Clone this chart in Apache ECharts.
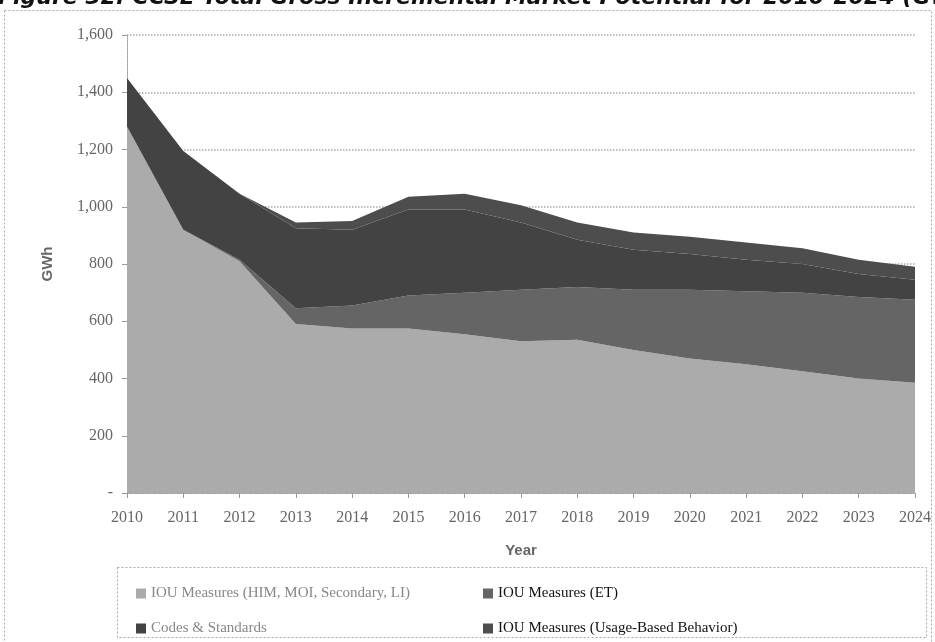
<!DOCTYPE html>
<html>
<head>
<meta charset="utf-8">
<script src="https://cdn.jsdelivr.net/npm/echarts@6/dist/echarts.min.js"></script>
<style>
  html, body { margin: 0; padding: 0; background: #fff; }
  #chart { width: 935px; height: 642px; }
</style>
</head>
<body>
<div id="chart"></div>
<script>
// Years on the category axis
const years = ['2010','2011','2012','2013','2014','2015','2016','2017','2018','2019','2020','2021','2022','2023','2024'];

// Gross incremental potential by component (GWh), stacked bottom to top
const iouHimMoi = [1280, 920, 810, 590, 575, 575, 555, 530, 535, 500, 470, 450, 425, 400, 385];
const iouEt = [0, 0, 5, 55, 80, 115, 145, 180, 185, 210, 240, 255, 275, 285, 290];
const codesStandards = [170, 275, 230, 280, 265, 300, 290, 235, 165, 140, 125, 110, 100, 80, 70];
const iouBehavior = [0, 0, 0, 20, 30, 45, 55, 60, 60, 60, 60, 60, 55, 50, 45];

const seriesNames = [
  'IOU Measures (HIM, MOI, Secondary, LI)',
  'IOU Measures (ET)',
  'Codes & Standards',
  'IOU Measures (Usage-Based Behavior)'
];
const seriesColors = ['#ababab', '#656565', '#434343', '#4d4d4d'];
const seriesData = [iouHimMoi, iouEt, codesStandards, iouBehavior];

const titleText = 'Figure 32: CCSE Total Gross Incremental Market Potential for 2010-2024 (GWh)';

const chart = echarts.init(document.getElementById('chart'), null, { renderer: 'canvas' });

const serifFont = '"Liberation Serif", "DejaVu Serif", serif';
const sansFont = '"Liberation Sans", Arial, sans-serif';

const series = seriesData.map((d, i) => ({
  name: seriesNames[i],
  type: 'line',
  stack: 'total',
  data: d,
  symbol: 'none',
  lineStyle: { width: 0 },
  itemStyle: { color: seriesColors[i] },
  areaStyle: { color: seriesColors[i], opacity: 1 },
  emphasis: { disabled: true }
}));

chart.setOption({
  animation: false,
  backgroundColor: '#ffffff',
  grid: { left: 127, right: 20, top: 35, bottom: 149 },
  xAxis: {
    type: 'category',
    data: years,
    boundaryGap: false,
    name: 'Year',
    nameLocation: 'middle',
    nameGap: 50,
    nameTextStyle: { fontFamily: sansFont, fontWeight: 'bold', fontSize: 15, color: '#666' },
    axisLine: { lineStyle: { color: '#999', type: 'dotted', width: 1 } },
    axisTick: { alignWithLabel: true, length: 5, lineStyle: { color: '#999' } },
    axisLabel: { fontFamily: serifFont, fontSize: 16, color: '#666', margin: 17 },
    splitLine: { show: false }
  },
  yAxis: {
    type: 'value',
    min: 0,
    max: 1600,
    interval: 200,
    name: 'GWh',
    nameLocation: 'middle',
    nameGap: 72,
    nameRotate: 90,
    nameTextStyle: { fontFamily: sansFont, fontWeight: 'bold', fontSize: 15, color: '#666' },
    axisLine: { show: true, lineStyle: { color: '#999', type: 'dotted', width: 1 } },
    axisTick: { show: true, length: 5, lineStyle: { color: '#999' } },
    axisLabel: {
      fontFamily: serifFont,
      fontSize: 16,
      color: '#666',
      margin: 14,
      formatter: v => v === 0 ? '-' : v.toLocaleString('en-US')
    },
    splitLine: { show: true, lineStyle: { color: '#aaa', type: 'dotted', width: 1.5 } }
  },
  legend: [
    {
      orient: 'vertical',
      left: 131,
      top: 581,
      itemWidth: 10,
      itemHeight: 10,
      itemGap: 20,
      icon: 'rect',
      selectedMode: false,
      textStyle: { fontFamily: serifFont, fontSize: 15 },
      data: [
        { name: seriesNames[0], textStyle: { color: '#888' } },
        { name: seriesNames[2], textStyle: { color: '#888' } }
      ]
    },
    {
      orient: 'vertical',
      left: 478,
      top: 581,
      itemWidth: 10,
      itemHeight: 10,
      itemGap: 20,
      icon: 'rect',
      selectedMode: false,
      textStyle: { fontFamily: serifFont, fontSize: 15 },
      data: [
        { name: seriesNames[1], textStyle: { color: '#111' } },
        { name: seriesNames[3], textStyle: { color: '#111' } }
      ]
    }
  ],
  graphic: [
    {
      type: 'rect',
      shape: { x: 4.5, y: 10.5, width: 927, height: 660 },
      style: { fill: 'none', stroke: '#aaa', lineWidth: 1, lineDash: [2, 2] },
      silent: true,
      z: -1
    },
    {
      type: 'rect',
      shape: { x: 117.5, y: 567.5, width: 809, height: 70 },
      style: { fill: 'none', stroke: '#aaa', lineWidth: 1, lineDash: [2, 2] },
      silent: true
    },
    {
      type: 'text',
      left: -2,
      top: -13,
      style: {
        text: titleText,
        font: 'italic bold 22px "DejaVu Sans", Arial, sans-serif',
        fill: '#111'
      },
      silent: true
    }
  ],
  series: series
});
</script>
</body>
</html>
